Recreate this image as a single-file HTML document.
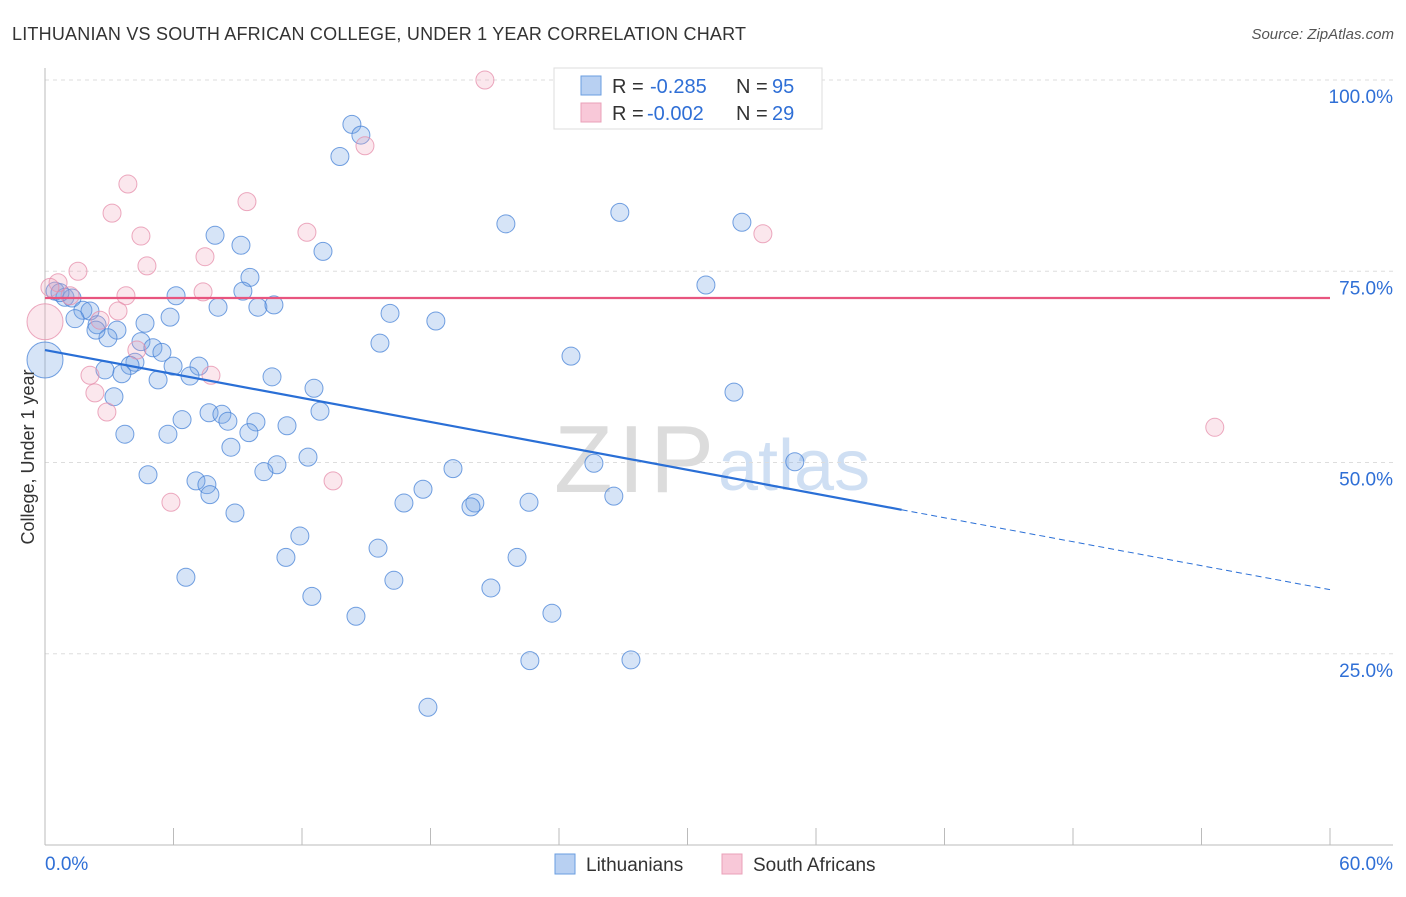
<!DOCTYPE html>
<html><head><meta charset="utf-8"><style>
body{margin:0;background:#fff;font-family:"Liberation Sans",sans-serif}
svg text{font-family:"Liberation Sans",sans-serif}
</style></head><body>
<svg id="chart" width="1406" height="892">
<text x="12" y="40" font-size="18" fill="#333" textLength="734">LITHUANIAN VS SOUTH AFRICAN COLLEGE, UNDER 1 YEAR CORRELATION CHART</text>
<text x="1394" y="39" font-size="15" fill="#555" font-style="italic" text-anchor="end">Source: ZipAtlas.com</text>
<text x="554" y="492" font-size="96" fill="#dcdcdc" textLength="160" font-family="Liberation Serif">ZIP</text>
<text x="718" y="490" font-size="72" fill="#cfdff3">atlas</text>
<g id="grid"></g>
<g id="axes"></g>
<g id="marks"></g>
<text transform="translate(34,457) rotate(-90)" font-size="18" fill="#333" text-anchor="middle">College, Under 1 year</text>
<g>
<rect x="554" y="68" width="268" height="61" fill="#fff" stroke="#ddd"/>
<rect x="581" y="76" width="20" height="19" fill="#b8d0f2" stroke="#6a9ee0"/>
<rect x="581" y="103" width="20" height="19" fill="#f8c8d8" stroke="#eaa0b8"/>
<text x="612" y="93" font-size="20" fill="#333">R =</text>
<text x="650" y="93" font-size="20" fill="#2f6fd6">-0.285</text>
<text x="736" y="93" font-size="20" fill="#333">N =</text>
<text x="772" y="93" font-size="20" fill="#2f6fd6">95</text>
<text x="612" y="120" font-size="20" fill="#333">R =</text>
<text x="647" y="120" font-size="20" fill="#2f6fd6">-0.002</text>
<text x="736" y="120" font-size="20" fill="#333">N =</text>
<text x="772" y="120" font-size="20" fill="#2f6fd6">29</text>
</g>
<g>
<rect x="555" y="854" width="20" height="20" fill="#b8d0f2" stroke="#6a9ee0"/>
<text x="586" y="871" font-size="19" fill="#333">Lithuanians</text>
<rect x="722" y="854" width="20" height="20" fill="#f8c8d8" stroke="#eaa0b8"/>
<text x="753" y="871" font-size="19" fill="#333">South Africans</text>
</g>
</svg>
<script>
const blueX=[14.33,14.75,13.77,26.84,32.54,21.52,7.94,9.15,12.98,9.57,30.86,9.24,6.12,0.47,0.93,1.26,0.70,8.08,9.94,10.69,16.11,18.25,5.84,1.77,2.10,1.40,2.43,3.36,4.67,2.94,2.38,15.64,4.48,5.04,5.46,24.56,0,4.20,3.97,2.80,3.59,5.98,7.19,6.77,5.28,10.60,12.56,32.17,3.22,12.84,7.66,8.26,6.40,9.85,8.54,11.30,3.73,5.74,9.52,8.68,35.01,25.63,10.83,12.28,10.22,19.05,4.81,7.05,7.56,17.65,7.70,26.56,16.76,20.07,19.89,22.60,8.87,11.90,15.55,11.25,22.04,6.58,16.29,20.82,12.46,14.52,23.67,22.64,27.36,17.88];
const blueY=[94.2,92.8,90.0,82.7,81.4,81.2,79.7,78.4,77.6,74.2,73.2,72.4,71.8,72.4,71.6,71.5,72.2,70.3,70.3,70.6,69.5,68.5,69.0,69.9,69.8,68.8,68.0,67.3,68.2,66.3,67.3,65.6,65.8,65.0,64.4,63.9,63.4,63.1,62.7,62.1,61.6,62.6,62.6,61.3,60.8,61.2,59.7,59.2,58.6,56.7,56.5,56.3,55.6,55.3,55.4,54.8,53.7,53.7,53.9,52.0,50.1,49.9,49.7,50.7,48.8,49.2,48.4,47.6,47.1,46.5,45.8,45.6,44.7,44.7,44.2,44.8,43.4,40.4,38.8,37.6,37.6,35.0,34.6,33.6,32.5,29.9,30.3,24.1,24.2,18.0];
const blueBig=[36];
const pinkX=[20.54,14.94,3.87,3.13,9.43,4.48,12.23,33.52,7.47,4.76,1.54,0.61,0.23,7.38,3.78,1.17,3.41,0,2.57,4.29,2.10,7.75,2.33,2.89,13.45,5.88,54.62];
const pinkY=[100.0,91.4,86.4,82.6,84.1,79.6,80.1,79.9,76.9,75.7,75.0,73.5,72.9,72.3,71.8,71.8,69.8,68.4,68.6,64.7,61.4,61.4,59.1,56.6,47.6,44.8,54.6];
const pinkBig=[17];
const blueTrend=[64.7,-0.522]; // intercept, slope
const pinkTrend=[71.5,0];
const yTicks=[25,50,75,100];
const xTickCount=10;

const NS="http://www.w3.org/2000/svg";
const sx=v=>45+v*(1285/60);
const sy=v=>845-v*7.65;
function mk(tag,attrs,parent){const e=document.createElementNS(NS,tag);for(const k in attrs)e.setAttribute(k,attrs[k]);document.getElementById(parent).appendChild(e);return e;}

yTicks.forEach(t=>{
  const l=mk('line',{x1:45,x2:1393,y1:sy(t),y2:sy(t),stroke:'#ddd','stroke-dasharray':'4,4'},'grid');
  
  
  const tx=mk('text',{x:1393,y:sy(t)+23,'font-size':19,fill:'#2f6fd6','text-anchor':'end'},'grid');
  tx.textContent=t.toFixed(1)+'%';
  
  
});
const ax=mk('line',{x1:45,x2:45,y1:68,y2:845,stroke:'#bbb'},'axes');


const bx=mk('line',{x1:45,x2:1393,y1:845,y2:845,stroke:'#bbb'},'axes');


for(let i=0;i<=xTickCount;i++){
  const v=i*60/xTickCount;
  const t=mk('line',{x1:sx(v),x2:sx(v),y1:828,y2:845,stroke:'#bbb'},'axes');
  
  
}
const xl0=mk('text',{x:45,y:870,'font-size':19,fill:'#2f6fd6'},'axes');xl0.textContent='0.0%';


const xl1=mk('text',{x:1393,y:870,'font-size':19,fill:'#2f6fd6','text-anchor':'end'},'axes');xl1.textContent='60.0%';



function dots(X,Y,big,fill,stroke,name){
  X.forEach((x,i)=>{
    const c=mk('circle',{cx:sx(x),cy:sy(Y[i]),r:big.includes(i)?18:9,fill:fill,stroke:stroke,'stroke-width':1},'marks');
    
    
  });
}
dots(blueX,blueY,blueBig,'rgba(120,165,230,0.3)','rgba(70,130,215,0.75)','lithuanian-point');
dots(pinkX,pinkY,pinkBig,'rgba(240,160,185,0.25)','rgba(230,140,170,0.75)','south-african-point');

const b1=mk('line',{x1:sx(0),y1:sy(blueTrend[0]),x2:sx(40),y2:sy(blueTrend[0]+blueTrend[1]*40),stroke:'#2a6fd6','stroke-width':2.2},'marks');


const b2=mk('line',{x1:sx(40),y1:sy(blueTrend[0]+blueTrend[1]*40),x2:sx(60),y2:sy(blueTrend[0]+blueTrend[1]*60),stroke:'#2a6fd6','stroke-width':1,'stroke-dasharray':'6,4'},'marks');


const p1=mk('line',{x1:sx(0),y1:sy(pinkTrend[0]),x2:sx(60),y2:sy(pinkTrend[0]+pinkTrend[1]*60),stroke:'#e8557f','stroke-width':2.2},'marks');


</script>
</body></html>
